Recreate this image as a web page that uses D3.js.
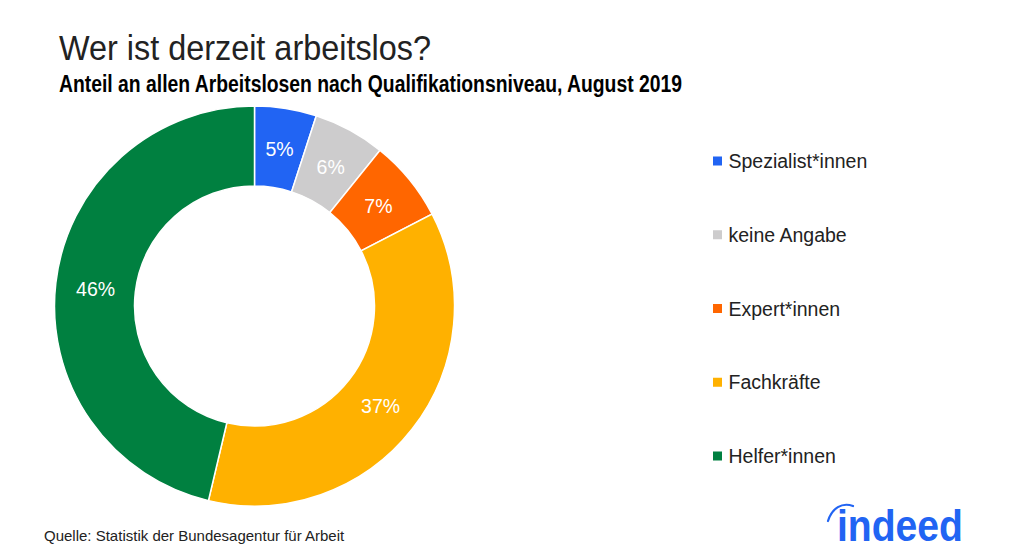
<!DOCTYPE html>
<html>
<head>
<meta charset="utf-8">
<script src="https://cdn.jsdelivr.net/npm/d3@7"></script>
<style>
  html, body { margin: 0; padding: 0; background: #fff; }
  svg { display: block; }
  text { font-family: "Liberation Sans", sans-serif; }
</style>
</head>
<body>
<svg id="chart" width="1024" height="558"></svg>
<script>
const categories = ["Spezialist*innen", "keine Angabe", "Expert*innen", "Fachkräfte", "Helfer*innen"];
const shares = [5.0, 5.8, 6.6, 36.3, 46.3];
const shareLabels = ["5%", "6%", "7%", "37%", "46%"];
const colors = ["#2164f3", "#cdcccd", "#ff6600", "#ffb100", "#008040"];

const svg = d3.select("#chart");

// Titles
svg.append("text")
  .attr("x", 59).attr("y", 60)
  .attr("font-size", 35)
  .attr("textLength", 372)
  .attr("lengthAdjust", "spacingAndGlyphs")
  .attr("fill", "#222")
  .text("Wer ist derzeit arbeitslos?");

svg.append("text")
  .attr("x", 59).attr("y", 92)
  .attr("font-size", 23)
  .attr("font-weight", "bold")
  .attr("textLength", 623)
  .attr("lengthAdjust", "spacingAndGlyphs")
  .attr("fill", "#000")
  .text("Anteil an allen Arbeitslosen nach Qualifikationsniveau, August 2019");

// Donut
const pie = d3.pie().sort(null).value((d) => d);
const arc = d3.arc().innerRadius(120).outerRadius(200);
const labelArc = d3.arc().innerRadius(160).outerRadius(160);
const arcs = pie(shares);

const g = svg.append("g").attr("transform", "translate(254.5,306)");

g.selectAll("path")
  .data(arcs)
  .enter().append("path")
  .attr("d", arc)
  .attr("fill", (d, i) => colors[i])
  .attr("stroke", "#fff")
  .attr("stroke-width", 1.5);

g.selectAll("text")
  .data(arcs)
  .enter().append("text")
  .attr("transform", (d) => `translate(${labelArc.centroid(d)})`)
  .attr("text-anchor", "middle")
  .attr("dy", "0.42em")
  .attr("font-size", 19.5)
  .attr("fill", "#fff")
  .text((d, i) => shareLabels[i]);

// Legend
const legendY = d3.scalePoint().domain(categories).range([161, 456]);

const legend = svg.append("g")
  .selectAll("g")
  .data(categories)
  .enter().append("g")
  .attr("transform", (d) => `translate(713,${legendY(d)})`);

legend.append("rect")
  .attr("x", 0).attr("y", -4.5)
  .attr("width", 9).attr("height", 9)
  .attr("fill", (d, i) => colors[i]);

legend.append("text")
  .attr("x", 15.5)
  .attr("dy", "0.36em")
  .attr("font-size", 19.5)
  .attr("fill", "#222")
  .text((d) => d);

// Source
svg.append("text")
  .attr("x", 44).attr("y", 541)
  .attr("font-size", 15)
  .attr("fill", "#222")
  .text("Quelle: Statistik der Bundesagentur für Arbeit");

// Logo
svg.append("text")
  .attr("x", 837).attr("y", 541)
  .attr("font-family", "Roboto, sans-serif")
  .attr("font-size", 45)
  .attr("font-weight", "bold")
  .attr("textLength", 126)
  .attr("lengthAdjust", "spacingAndGlyphs")
  .attr("fill", "#2164f3")
  .text("indeed");

svg.append("path")
  .attr("d", "M828,521 C832,508 842,502 853,506")
  .attr("fill", "none")
  .attr("stroke", "#2164f3")
  .attr("stroke-width", 2.2)
  .attr("stroke-linecap", "round");
</script>
</body>
</html>
